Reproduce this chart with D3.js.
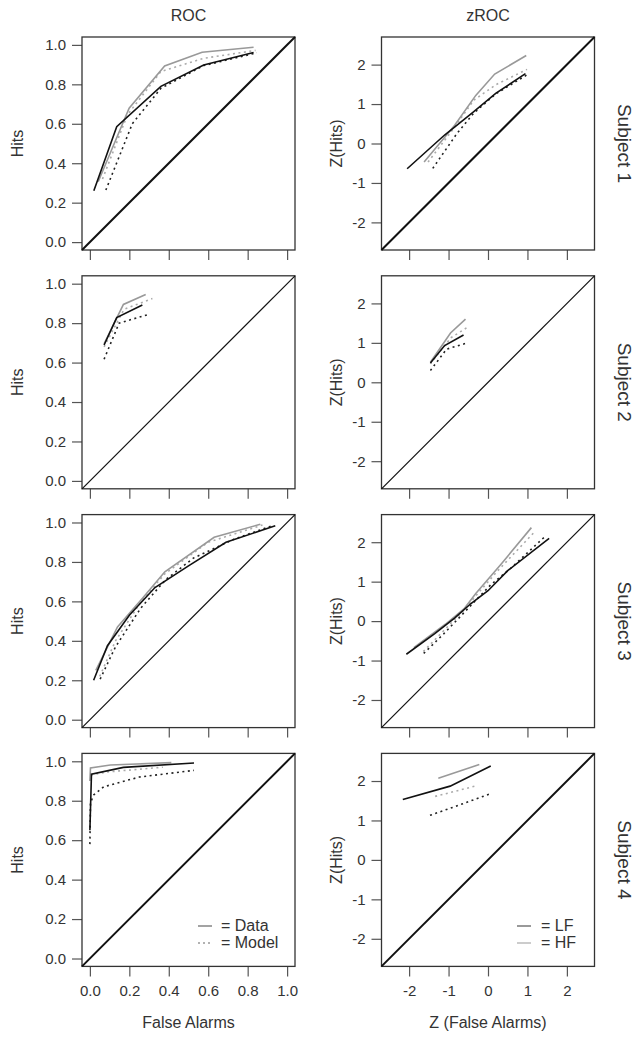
<!DOCTYPE html>
<html>
<head>
<meta charset="utf-8">
<script src="https://cdn.jsdelivr.net/npm/d3@7"></script>
<style>
  body { margin: 0; background: #fff; }
  svg { font-family: 'Liberation Sans', Arial, sans-serif; }
</style>
</head>
<body>
<div class="wrapper"></div>
<script>
const subjects = ['Subject 1', 'Subject 2', 'Subject 3', 'Subject 4']
const rocTicks = [0, 0.2, 0.4, 0.6, 0.8, 1.0]
const zTicks = [-2, -1, 0, 1, 2]

// ROC points [false alarms, hits], one list per subject
const rocLfData = [
  [[0.02, 0.26], [0.136, 0.585], [0.36, 0.79], [0.577, 0.898], [0.83, 0.961]],
  [[0.072, 0.689], [0.136, 0.828], [0.266, 0.892]],
  [[0.019, 0.2], [0.089, 0.375], [0.2, 0.53], [0.33, 0.67], [0.5, 0.78], [0.69, 0.9], [0.94, 0.983]],
  [[0, 0.65], [0.008, 0.935], [0.17, 0.969], [0.528, 0.991]],
]
const rocHfData = [
  [[0.042, 0.306], [0.199, 0.679], [0.379, 0.893], [0.569, 0.963], [0.83, 0.988]],
  [[0.072, 0.695], [0.17, 0.895], [0.283, 0.945]],
  [[0.03, 0.25], [0.14, 0.47], [0.27, 0.62], [0.38, 0.75], [0.63, 0.925], [0.864, 0.991]],
  [[0, 0.9], [0.003, 0.966], [0.104, 0.981], [0.413, 0.993]],
]
const rocLfModel = [
  [[0.081, 0.264], [0.215, 0.6], [0.36, 0.78], [0.577, 0.895], [0.847, 0.96]],
  [[0.072, 0.617], [0.148, 0.8], [0.3, 0.845]],
  [[0.052, 0.206], [0.13, 0.37], [0.258, 0.566], [0.384, 0.71], [0.526, 0.82], [0.73, 0.915], [0.925, 0.984]],
  [[0, 0.58], [0.003, 0.79], [0.02, 0.83], [0.071, 0.871], [0.25, 0.92], [0.528, 0.954]],
]
const rocHfModel = [
  [[0.064, 0.32], [0.19, 0.645], [0.36, 0.865], [0.577, 0.932], [0.84, 0.972]],
  [[0.072, 0.68], [0.173, 0.87], [0.317, 0.925]],
  [[0.05, 0.22], [0.13, 0.4], [0.26, 0.6], [0.38, 0.74], [0.6, 0.9], [0.875, 0.987]],
  [[0.005, 0.93], [0.09, 0.946], [0.37, 0.97]],
]

// zROC points [z(false alarms), z(hits)]
const zLfData = [
  [[-2.05, -0.64], [-1.1, 0.215], [-0.36, 0.81], [0.195, 1.27], [0.95, 1.77]],
  [[-1.46, 0.49], [-1.1, 0.93], [-0.62, 1.2]],
  [[-2.07, -0.84], [-1.35, -0.32], [-0.84, 0.08], [-0.44, 0.44], [0, 0.77], [0.5, 1.28], [1.55, 2.1]],
  [[-2.16, 1.53], [-0.96, 1.87], [0.07, 2.38]],
]
const zHfData = [
  [[-1.62, -0.47], [-0.845, 0.465], [-0.31, 1.22], [0.17, 1.76], [0.97, 2.23]],
  [[-1.46, 0.51], [-0.95, 1.25], [-0.57, 1.6]],
  [[-1.88, -0.67], [-1.08, -0.08], [-0.61, 0.31], [-0.31, 0.7], [0.33, 1.44], [1.1, 2.37]],
  [[-1.26, 2.07], [-0.22, 2.42]],
]
const zLfModel = [
  [[-1.4, -0.63], [-0.79, 0.25], [-0.36, 0.77], [0.2, 1.26], [1.02, 1.76]],
  [[-1.46, 0.3], [-1.05, 0.84], [-0.52, 1.0]],
  [[-1.63, -0.82], [-1.13, -0.33], [-0.65, 0.17], [-0.29, 0.55], [0.07, 0.92], [0.61, 1.37], [1.44, 2.14]],
  [[-1.47, 1.13], [-0.9, 1.33], [0.07, 1.68]],
]
const zHfModel = [
  [[-1.52, -0.47], [-0.88, 0.37], [-0.36, 1.1], [0.2, 1.49], [0.99, 1.88]],
  [[-1.46, 0.47], [-0.94, 1.13], [-0.48, 1.42]],
  [[-1.64, -0.77], [-1.13, -0.25], [-0.64, 0.25], [-0.31, 0.64], [0.25, 1.28], [1.15, 2.23]],
  [[-1.34, 1.61], [-0.33, 1.87]],
]

const width = 639,
  height = 1041,
  size = 213
const rowTop = [37, 275.8, 514.6, 753.4]
const diagWidth = [2, 1.2, 1.2, 2]

const svg = d3.select('.wrapper')
  .append('svg')
  .attr('width', width)
  .attr('height', height)

const series = [
  { roc: rocLfModel, z: zLfModel, color: '#222', dash: '2,3.5' },
  { roc: rocHfModel, z: zHfModel, color: '#aaa', dash: '2,3.5' },
  { roc: rocHfData, z: zHfData, color: '#999', dash: null },
  { roc: rocLfData, z: zLfData, color: '#111', dash: null },
]

const columns = [
  {
    key: 'roc', left: 82, title: 'ROC', yLabel: 'Hits', yLabelX: 23, xLabel: 'False Alarms',
    x: d3.scaleLinear().domain([-0.04, 1.04]).range([0, size]),
    y: d3.scaleLinear().domain([-0.04, 1.04]).range([size, 0]),
    ticks: rocTicks, format: d3.format('.1f'),
  },
  {
    key: 'z', left: 381.5, title: 'zROC', yLabel: 'Z(Hits)', yLabelX: 342, xLabel: 'Z (False Alarms)',
    x: d3.scaleLinear().domain([-2.7, 2.7]).range([0, size]),
    y: d3.scaleLinear().domain([-2.7, 2.7]).range([size, 0]),
    // plain hyphen like the original, not the unicode minus
    ticks: zTicks, format: d => String(d),
  },
]

columns.forEach(col => {
  const cx = col.left + size / 2

  svg.append('text')
    .attr('x', cx)
    .attr('y', 21)
    .attr('text-anchor', 'middle')
    .attr('font-size', 16)
    .attr('fill', '#333')
    .text(col.title)

  svg.append('text')
    .attr('x', cx)
    .attr('y', 1028)
    .attr('text-anchor', 'middle')
    .attr('font-size', 16)
    .attr('fill', '#333')
    .text(col.xLabel)

  rowTop.forEach((top, i) => {
    const g = svg.append('g')
      .attr('transform', `translate(${col.left}, ${top})`)

    // y axis
    const yAxis = g.append('g')
      .call(d3.axisLeft(col.y).tickValues(col.ticks).tickFormat(col.format).tickSize(10).tickPadding(6))
    yAxis.select('.domain').remove()

    // x axis, labels only on the bottom row
    const xAxis = g.append('g')
      .attr('transform', `translate(0, ${size})`)
      .call(d3.axisBottom(col.x).tickValues(col.ticks).tickFormat(i === 3 ? col.format : '').tickSize(10).tickPadding(9))
    xAxis.select('.domain').remove()

    g.selectAll('.tick line').attr('stroke', '#555').attr('stroke-width', 1.2)
    g.selectAll('.tick text')
      .attr('font-size', 15)
      .attr('fill', '#333')
      .style('font-family', "'Liberation Sans', Arial, sans-serif")

    // frame
    g.append('rect')
      .attr('width', size)
      .attr('height', size)
      .attr('fill', 'none')
      .attr('stroke', '#333')
      .attr('stroke-width', 1.3)

    // chance diagonal
    const dom = col.x.domain()
    g.append('line')
      .attr('x1', col.x(dom[0]))
      .attr('y1', col.y(dom[0]))
      .attr('x2', col.x(dom[1]))
      .attr('y2', col.y(dom[1]))
      .attr('stroke', '#111')
      .attr('stroke-width', diagWidth[i])

    const line = d3.line()
      .x(d => col.x(d[0]))
      .y(d => col.y(d[1]))

    series.forEach(s => {
      g.append('path')
        .attr('d', line(s[col.key][i]))
        .attr('fill', 'none')
        .attr('stroke', s.color)
        .attr('stroke-width', 1.6)
        .attr('stroke-dasharray', s.dash)
    })

    // y label
    svg.append('text')
      .attr('transform', `translate(${col.yLabelX}, ${top + size / 2}) rotate(-90)`)
      .attr('text-anchor', 'middle')
      .attr('font-size', 16)
      .attr('fill', '#333')
      .text(col.yLabel)
  })
})

// subject labels on the right
rowTop.forEach((top, i) => {
  svg.append('text')
    .attr('transform', `translate(618, ${top + size / 2}) rotate(90)`)
    .attr('text-anchor', 'middle')
    .attr('font-size', 19)
    .attr('fill', '#333')
    .text(subjects[i])
})

// legends in the bottom row
const legends = [
  { left: 198, textX: 221, items: [
    { label: '= Data', color: '#666', dash: null },
    { label: '= Model', color: '#666', dash: '2,3' },
  ] },
  { left: 517, textX: 541, items: [
    { label: '= LF', color: '#555', dash: null },
    { label: '= HF', color: '#aaa', dash: null },
  ] },
]

legends.forEach(lg => {
  lg.items.forEach((it, j) => {
    const y = 926 + j * 17
    svg.append('line')
      .attr('x1', lg.left)
      .attr('x2', lg.left + 14)
      .attr('y1', y)
      .attr('y2', y)
      .attr('stroke', it.color)
      .attr('stroke-width', 1.2)
      .attr('stroke-dasharray', it.dash)
    svg.append('text')
      .attr('x', lg.textX)
      .attr('y', y + 5)
      .attr('font-size', 16)
      .attr('fill', '#333')
      .text(it.label)
  })
})
</script>
</body>
</html>
